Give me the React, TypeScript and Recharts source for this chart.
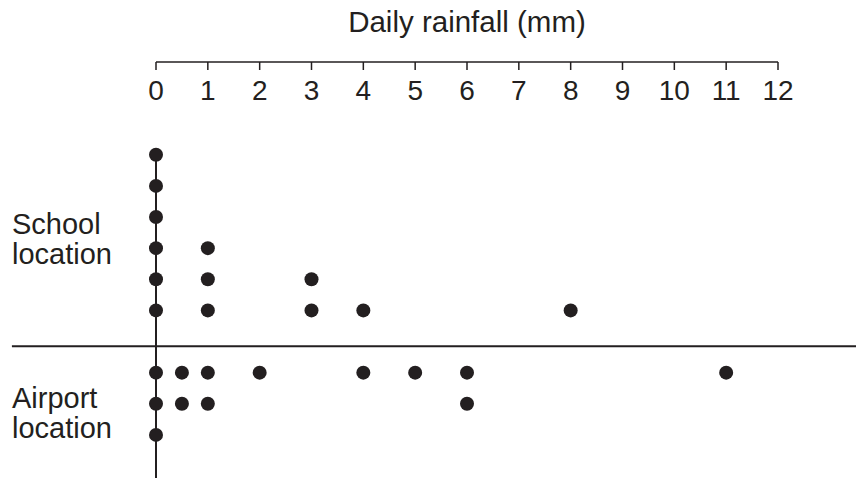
import React from 'react';
import { ScatterChart, Scatter, XAxis, YAxis, ReferenceLine } from 'recharts';

const rainTicks = [0, 1, 2, 3, 4, 5, 6, 7, 8, 9, 10, 11, 12];
const schoolRainfall = [0, 0, 0, 0, 0, 0, 1, 1, 1, 3, 3, 4, 8];
const airportRainfall = [0, 0, 0, 0.5, 0.5, 1, 1, 2, 4, 5, 6, 6, 11];
const groupLabels = ['School location', 'Airport location'];
const groupLabelPos = [3.3, -2.3];

function stack(values: number[], dir: number) {
  const counts: Record<string, number> = {};
  return values.map((v) => {
    counts[v] = (counts[v] || 0) + 1;
    return { x: v, y: dir * counts[v] };
  });
}

const schoolData = stack(schoolRainfall, 1);
const airportData = stack(airportRainfall, -1);
const maxSchool = Math.max(...schoolData.map((d) => d.y));

const INK = '#231f20';
const FONT = '"Liberation Sans", Arial, Helvetica, sans-serif';

const Dot = (props: any) => <circle cx={props.cx} cy={props.cy} r={7} fill={INK} />;

const GroupTick = (props: any) => {
  const { y, index } = props;
  const words = groupLabels[index].split(' ');
  return (
    <text x={12} y={y} fontSize={29} fill={INK} fontFamily={FONT} textAnchor="start">
      <tspan x={12} y={y - 5}>{words[0]}</tspan>
      <tspan x={12} y={y + 25}>{words[1]}</tspan>
    </text>
  );
};

export default function App() {
  return (
    <div style={{ position: 'absolute', left: 0, top: 0, background: '#fff' }}>
      <ScatterChart
        width={856}
        height={479}
        margin={{ top: 62, right: 78, bottom: 1, left: 12 }}
        style={{ fontFamily: FONT }}
      >
        <XAxis
          type="number"
          dataKey="x"
          orientation="top"
          mirror
          domain={[0, 12]}
          ticks={rainTicks}
          interval={0}
          tickSize={8}
          tickMargin={10}
          stroke={INK}
          strokeWidth={1.5}
          tick={{ fill: INK, fontSize: 28, fontFamily: FONT }}
          label={{ value: 'Daily rainfall (mm)', position: 'top', offset: 30, fill: INK, fontSize: 29.5, fontFamily: FONT }}
        />
        <YAxis
          type="number"
          dataKey="y"
          width={144}
          domain={[-4.385, 8.98]}
          ticks={groupLabelPos}
          interval={0}
          axisLine={false}
          tickLine={false}
          tick={<GroupTick />}
        />
        <ReferenceLine
          segment={[{ x: 0, y: maxSchool }, { x: 0, y: -4.385 }]}
          stroke={INK}
          strokeWidth={2}
          ifOverflow="visible"
        />
        <ReferenceLine
          segment={[{ x: -2.78, y: -0.15 }, { x: 13.6, y: -0.15 }]}
          stroke={INK}
          strokeWidth={2}
          ifOverflow="visible"
        />
        <Scatter data={schoolData} shape={<Dot />} isAnimationActive={false} />
        <Scatter data={airportData} shape={<Dot />} isAnimationActive={false} />
      </ScatterChart>
    </div>
  );
}
